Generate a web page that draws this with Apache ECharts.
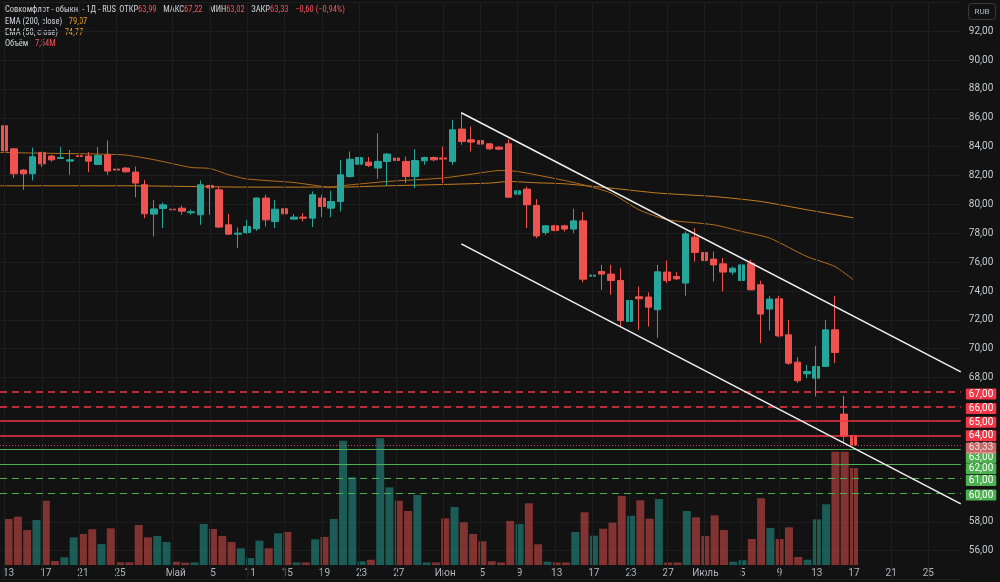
<!DOCTYPE html>
<html>
<head>
<meta charset="utf-8">
<script src="https://cdn.jsdelivr.net/npm/echarts@6/dist/echarts.min.js"></script>
<style>
html, body { margin: 0; padding: 0; background: #121212; }
#chart { width: 1000px; height: 582px; }
</style>
</head>
<body>
<div id="chart"></div>
<script>
// daily bars (weekend sessions included, holidays skipped) + empty future bars
var dates = [
  '13.04','14.04','15.04','16.04','17.04','18.04','19.04','20.04','21.04','22.04','23.04','24.04','25.04','26.04','27.04','28.04','29.04','30.04',
  '01.05','02.05','03.05','04.05','05.05','06.05','07.05','08.05',
  '11.05','12.05','13.05','14.05','15.05','16.05','17.05','18.05','19.05','20.05','21.05','22.05','23.05','24.05','25.05','26.05','27.05','28.05','29.05','30.05','31.05',
  '01.06','02.06','03.06','04.06','05.06','06.06','07.06','08.06','09.06','10.06','11.06','12.06','13.06','14.06','15.06','16.06','17.06','18.06','19.06',
  '22.06','23.06','24.06','25.06','26.06','27.06','28.06','29.06','30.06',
  '01.07','02.07','03.07','04.07','05.07','06.07','07.07','08.07','09.07','10.07','11.07','12.07','13.07','14.07','15.07','16.07','17.07',
  '18.07','19.07','20.07','21.07','22.07','23.07','24.07','25.07','26.07','27.07','28.07'
];
var tickIndex = [0, 4, 8, 12, 18, 22, 26, 30, 34, 38, 42, 47, 51, 55, 59, 63, 67, 71, 75, 79, 83, 87, 91, 95, 99];
var tickLabels = ['13','17','21','25','Май','5','11','15','19','23','27','Июн','5','9','13','17','23','27','Июль','5','9','13','17','21','25'];

// [open, close, low, high]
var candles = [
  [85.45,83.71,82.87,85.68],[83.85,82.12,81.82,83.90],[82.38,82.12,81.01,82.45],[82.12,83.30,81.66,83.94],
  [83.60,82.81,82.59,83.65],[83.35,83.09,82.97,83.44],[83.18,83.25,83.16,83.97],[83.00,83.09,82.05,83.78],
  [83.37,83.32,81.82,83.56],[83.35,83.00,82.24,83.62],[82.77,83.39,82.77,83.97],[83.44,82.31,82.03,84.43],
  [82.45,82.38,82.12,82.63],[82.52,82.26,82.21,82.59],[82.24,81.48,80.50,82.63],[81.36,79.35,79.05,81.70],
  [79.33,79.69,77.78,80.32],[79.72,79.97,78.36,80.13],[79.67,79.63,79.28,79.97],[79.74,79.53,79.28,79.92],
  [79.42,79.49,79.28,79.65],[79.28,81.36,78.59,81.66],[81.31,81.15,79.28,81.36],[81.01,78.43,78.36,81.24],
  [78.59,77.94,77.89,79.35],[77.94,78.01,76.97,78.40],[78.05,78.47,77.96,78.93],[78.31,80.44,78.17,80.48],
  [80.44,78.93,78.47,80.67],[78.82,79.67,78.36,80.32],[79.70,79.35,78.43,80.96],[78.98,79.12,78.98,79.33],
  [79.12,79.05,78.82,79.40],[79.05,80.67,78.43,80.90],[80.44,79.86,79.12,80.67],[79.74,80.20,79.12,80.94],
  [80.20,82.05,79.51,83.09],[81.93,83.13,81.86,83.67],[82.79,83.25,82.74,83.29],[82.93,82.70,82.59,83.29],
  [82.52,82.98,81.77,84.94],[82.98,83.49,81.29,83.56],[83.21,83.04,81.59,84.01],[82.98,81.93,81.48,83.32],
  [81.93,83.04,81.13,83.83],[83.02,83.25,82.74,83.32],[83.25,83.09,82.98,83.32],[83.22,83.14,81.48,84.01],
  [82.98,85.17,82.74,85.86],[85.22,84.36,84.13,86.37],[84.48,84.32,83.67,85.40],[84.43,84.18,83.78,85.17],
  [84.20,83.85,83.78,84.25],[83.97,83.83,83.78,84.03],[84.20,80.50,80.50,84.52],[80.71,80.94,79.74,82.63],
  [81.06,79.97,78.36,81.24],[79.92,77.82,77.66,80.37],[78.06,78.52,77.89,78.54],[78.52,78.19,78.13,78.59],
  [78.52,78.29,78.13,78.59],[78.29,78.86,78.01,79.70],[78.86,74.82,74.59,79.47],[75.03,75.10,74.31,75.93],
  [75.35,75.17,74.08,75.81],[75.17,74.73,73.74,75.81],[74.73,71.95,71.54,75.58],[71.89,73.34,71.31,74.50],
  [73.60,73.46,71.31,74.31],[73.58,72.88,71.54,73.90],[72.70,75.33,70.76,75.81],[75.31,74.73,74.55,76.11],
  [75.01,74.84,74.77,75.31],[74.55,77.96,73.67,78.12],[77.73,76.67,76.04,78.36],[76.67,76.11,75.35,76.74],
  [76.21,75.81,74.66,76.74],[75.88,75.31,73.96,76.28],[75.31,75.58,75.12,75.69],[74.73,75.81,74.66,76.16],
  [75.93,74.08,74.06,76.16],[74.43,72.40,70.39,74.71],[72.75,73.44,71.26,73.67],[73.46,70.89,70.80,73.67],
  [70.96,69.00,68.88,72.00],[69.07,67.78,67.62,69.42],[68.26,68.42,67.96,68.88],[67.96,68.77,66.69,70.20],
  [68.77,71.31,68.77,72.00],[71.31,69.74,69.00,73.67],[65.47,63.93,63.50,66.74],[63.99,63.33,63.02,67.22]
];
// volume, millions
var volumes = [
  3.58,3.76,2.72,3.50,5.00,0.31,0.60,2.15,2.41,2.78,1.63,2.85,0.21,0.21,3.11,2.15,
  2.26,1.79,0.26,0.18,0.20,3.19,2.80,2.26,1.79,1.30,0.54,1.89,1.30,2.46,2.57,0.20,
  0.20,2.00,2.18,3.58,9.67,6.82,0.29,0.41,9.85,6.04,5.00,4.20,5.44,0.20,0.20,3.63,
  4.51,3.32,2.41,1.84,0.29,0.20,3.42,3.19,4.80,1.61,0.26,0.20,0.20,2.57,4.10,2.28,
  2.82,3.29,5.37,3.83,5.03,3.60,5.13,0.20,0.20,4.20,3.71,2.26,3.86,2.72,0.26,0.37,
  2.02,5.19,2.88,2.02,2.93,0.62,0.41,3.55,4.72,8.81,8.81,7.54
];
// [bar index, value]
var ema200 = [[-0.5,81.29],[13,81.29],[26,81.20],[36,81.20],[41,81.29],[47,81.38],[52,81.48],[54,81.59],
  [57,81.50],[60,81.43],[65,81.13],[70,80.79],[76,80.55],[81,80.21],[86,79.63],[91,79.07]];
var ema50 = [[-0.5,83.60],[4,83.55],[10,83.49],[13,83.42],[16,83.10],[20,82.56],[22,82.49],[24,82.06],
  [26,81.76],[31,81.52],[35,81.20],[36,81.29],[41,81.59],[47,81.83],[52,82.28],[53,82.35],[55,82.28],
  [60,81.66],[62,81.36],[65,80.79],[68,79.63],[71,78.94],[76,78.59],[79,78.13],[82,77.67],[86,76.39],
  [89,75.70],[91,74.77]];
var channelTop = [[48.95, 86.35], [102.5, 68.40]];
var channelBottom = [[48.95, 77.27], [102.5, 59.25]];
var levels = [67, 66, 65, 64, 63, 62, 61, 60];

var FONT = 'Roboto, "Noto Sans", sans-serif';
var NARROW = '"Liberation Sans Narrow", "Roboto Condensed", Roboto, sans-serif';
var upColor = '#26a69a', downColor = '#ef5350';
function fmt(v) { return v.toFixed(2).replace('.', ','); }

var last = candles[candles.length - 1];
var prevClose = candles[candles.length - 2][1];
var chg = last[1] - prevClose;
var sign = chg < 0 ? '−' : '+';

var volData = volumes.map(function (v, i) {
  var up = candles[i][1] >= candles[i][0];
  return { value: v, itemStyle: { color: up ? 'rgba(38,166,154,0.5)' : 'rgba(239,83,80,0.5)' } };
});

// badges are nudged apart where they would collide, as the price scale does
var badgeShift = { 65: 1.3, 64: 0.5, 63: 7.8, 62: 4.5 };
var levelMarks = [];
levels.forEach(function (lv) {
  var red = lv > last[1];
  var col = red ? '#f23645' : '#4caf50';
  var dashed = lv >= 66 || lv <= 61;
  levelMarks.push({
    yAxis: lv,
    lineStyle: { color: col, width: red ? 1.5 : 1.2, type: dashed ? [7, 5] : 'solid' },
    label: { formatter: fmt(lv), backgroundColor: col, offset: [0, badgeShift[lv] !== undefined ? badgeShift[lv] : 2] }
  });
});
levelMarks.push({
  yAxis: last[1],
  lineStyle: { color: '#f7525f', width: 1, type: [1, 2], opacity: 0.8 },
  label: { formatter: fmt(last[1]), backgroundColor: '#f77c80', offset: [0, 3] }
});

var legendRich = {
  t: { fill: '#d1d4dc', fontSize: 8.5, fontFamily: NARROW },
  r: { fill: '#f7525f', fontSize: 8.5, fontFamily: NARROW },
  o: { fill: '#e39a2f', fontSize: 8.5, fontFamily: NARROW }
};

var option = {
  backgroundColor: '#121212',
  animation: false,
  textStyle: { fontFamily: FONT },
  grid: [
    { left: -0.67, width: 961.5, top: 2.4, height: 577.2 },
    { left: -0.67, width: 961.5, top: 436.4, height: 128.6 }
  ],
  xAxis: [
    { type: 'category', gridIndex: 0, data: dates, show: false },
    {
      type: 'category', gridIndex: 1, data: dates,
      axisLine: { show: false }, axisTick: { show: false }, splitLine: { show: false },
      axisLabel: {
        color: '#b2b5be', fontSize: 10, margin: 3,
        interval: function (i) { return tickIndex.indexOf(i) >= 0; },
        formatter: function (v, i) { var k = tickIndex.indexOf(i); return k >= 0 ? tickLabels[k] : ''; }
      }
    },
    { type: 'value', gridIndex: 0, min: -0.5, max: 102.5, show: false }
  ],
  yAxis: [
    {
      type: 'value', gridIndex: 0, position: 'right', min: 54, max: 94, interval: 2,
      axisLine: { show: false }, axisTick: { show: false },
      splitLine: { lineStyle: { color: '#1d1d1d', width: 1 } },
      axisLabel: {
        color: '#c9cbd1', fontSize: 10, margin: 8,
        formatter: function (v) { return (v >= 59 && v <= 67) || v <= 54 || v >= 94 ? '' : fmt(v); }
      }
    },
    { type: 'value', gridIndex: 1, min: 0, max: 10, show: false }
  ],
  series: [
    {
      // vertical grid lines at the time labels
      type: 'line', xAxisIndex: 2, yAxisIndex: 0, data: [], z: 0, silent: true,
      markLine: {
        symbol: ['none', 'none'], silent: true, animation: false, label: { show: false },
        lineStyle: { color: '#1d1d1d', width: 1, type: 'solid' },
        data: tickIndex.map(function (i) { return { xAxis: i }; })
      }
    },
    {
      name: 'Объём', type: 'bar', xAxisIndex: 1, yAxisIndex: 1, data: volData,
      barWidth: 8, z: 1, silent: true
    },
    {
      name: 'EMA 200', type: 'line', xAxisIndex: 2, yAxisIndex: 0, data: ema200, z: 2,
      showSymbol: false, smooth: 0.2, lineStyle: { color: '#c87d1e', width: 1 }
    },
    {
      name: 'EMA 50', type: 'line', xAxisIndex: 2, yAxisIndex: 0, data: ema50, z: 2,
      showSymbol: false, smooth: 0.2, lineStyle: { color: '#b36d1a', width: 1 }
    },
    {
      name: 'Совкомфлот', type: 'candlestick', xAxisIndex: 0, yAxisIndex: 0, data: candles,
      barWidth: 7, z: 3,
      itemStyle: { color: upColor, color0: downColor, borderColor: upColor, borderColor0: downColor, borderWidth: 1 }
    },
    {
      // horizontal levels with price badges
      type: 'line', xAxisIndex: 2, yAxisIndex: 0, data: [], z: 4, silent: true,
      markLine: {
        symbol: ['none', 'none'], silent: true, animation: false,
        label: {
          show: true, position: 'end', distance: 5, color: '#ffffff',
          align: 'left', verticalAlign: 'middle',
          fontSize: 10, lineHeight: 11, fontFamily: FONT, padding: [0, 3, 0, 3], borderRadius: 1
        },
        data: levelMarks
      }
    },
    {
      type: 'line', xAxisIndex: 2, yAxisIndex: 0, data: channelTop, z: 5, silent: true,
      showSymbol: false, lineStyle: { color: '#f0f0f0', width: 1.5 }
    },
    {
      type: 'line', xAxisIndex: 2, yAxisIndex: 0, data: channelBottom, z: 5, silent: true,
      showSymbol: false, lineStyle: { color: '#f0f0f0', width: 1.5 }
    }
  ],
  graphic: [
    {
      type: 'text', left: 5, top: 4, silent: true,
      style: {
        text: '{t|Совкомфлот - обыкн. - 1Д - RUS} {t|ОТКР}{r|' + fmt(last[0]) + '}  {t|МАКС}{r|' + fmt(last[3]) +
          '}  {t|МИН}{r|' + fmt(last[2]) + '}  {t|ЗАКР}{r|' + fmt(last[1]) + '}  {r|' + sign + fmt(Math.abs(chg)) +
          ' (' + sign + fmt(Math.abs(chg) / prevClose * 100) + '%)}',
        rich: legendRich
      }
    },
    {
      type: 'text', left: 5, top: 16, silent: true,
      style: { text: '{t|EMA (200, close)}  {o|' + fmt(ema200[ema200.length - 1][1]) + '}', rich: legendRich }
    },
    {
      type: 'text', left: 5, top: 27, silent: true,
      style: { text: '{t|EMA (50, close)}  {o|' + fmt(ema50[ema50.length - 1][1]) + '}', rich: legendRich }
    },
    {
      type: 'text', left: 5, top: 38, silent: true,
      style: { text: '{t|Объём}  {r|' + fmt(volumes[volumes.length - 1]) + 'M}', rich: legendRich }
    },
    {
      type: 'group', left: 968, top: 3, silent: true,
      children: [
        { type: 'rect', shape: { x: 0, y: 0, width: 27, height: 16, r: 3 }, style: { fill: '#121212', stroke: '#3a3a3a', lineWidth: 1 } },
        { type: 'text', x: 13.5, y: 8, style: { text: 'RUB', fill: '#b2b5be', fontSize: 8, fontFamily: FONT, align: 'center', verticalAlign: 'middle' } }
      ]
    }
  ]
};

var myChart = echarts.init(document.getElementById('chart'));
myChart.setOption(option);
</script>
</body>
</html>
